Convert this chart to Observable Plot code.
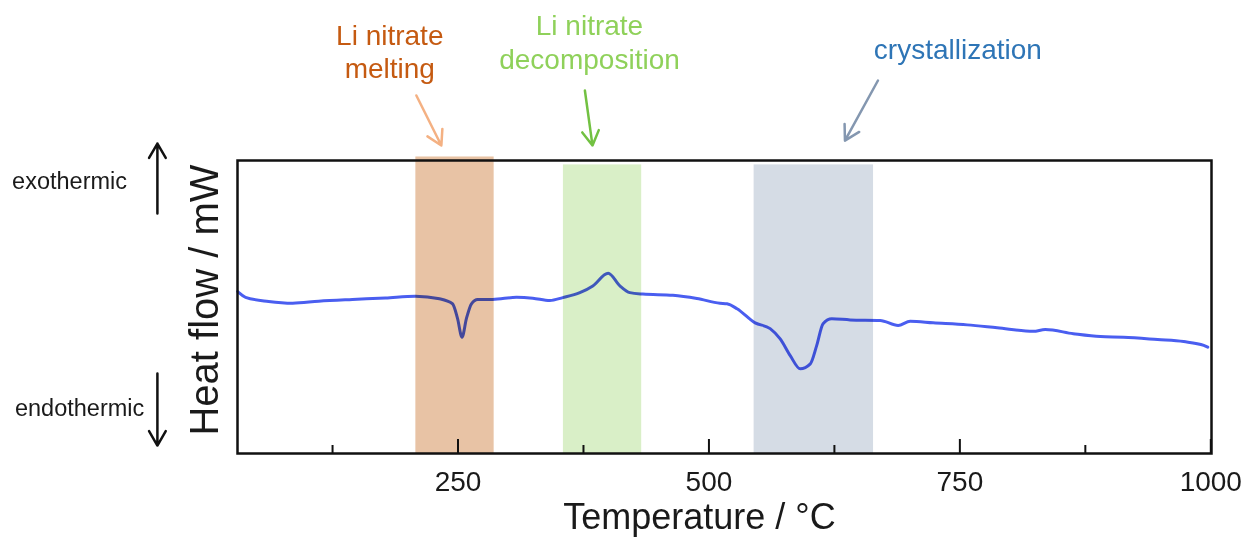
<!DOCTYPE html>
<html><head><meta charset="utf-8">
<script src="https://cdn.jsdelivr.net/npm/d3@7"></script>
<script src="https://cdn.jsdelivr.net/npm/@observablehq/plot@0.6"></script>
<style>body{margin:0;background:#fff} #chart svg{display:block}</style>
</head><body><div id="chart"></div>
<script>
// DSC trace (temperature in °C, heat flow in arbitrary mW units)
const temperature = [30.5, 32.3, 38.3, 61.3, 85.3, 111.2, 144.8, 177.7, 207.6, 231.5, 244.5, 249.5, 254, 258.4, 263.4, 269.6, 284.6, 308.2, 324.5, 341.5, 354.4, 371.4, 384.3, 399.6, 411.3, 421.2, 434.2, 464.1, 488, 511, 518, 528, 546, 561, 571, 581, 591, 601, 607.4, 613.7, 622.4, 640.7, 670.6, 688.5, 700.5, 723.4, 757.3, 787.2, 823.1, 835.1, 863, 890, 913, 947, 973, 993, 997];
const heatFlow = [5.53, 5.47, 5.33, 5.19, 5.13, 5.20, 5.26, 5.31, 5.37, 5.28, 5.11, 4.61, 3.97, 4.61, 5.11, 5.26, 5.26, 5.33, 5.30, 5.22, 5.32, 5.49, 5.72, 6.15, 5.72, 5.49, 5.44, 5.40, 5.29, 5.13, 5.11, 4.94, 4.46, 4.26, 3.91, 3.34, 2.89, 3.06, 3.69, 4.43, 4.60, 4.56, 4.54, 4.37, 4.51, 4.46, 4.39, 4.29, 4.17, 4.23, 4.09, 3.99, 3.97, 3.89, 3.82, 3.69, 3.63];

// highlighted regions
const regionNames = ["Li nitrate\nmelting", "Li nitrate\ndecomposition", "crystallization"];
const regionStart = [208, 355, 545];
const regionEnd = [286, 433, 664];
const regionTop = [10.12, 9.85, 9.85];
const regionFill = ["#e8c3a5", "#d9efc7", "#d5dce5"];
const regionTextColor = ["#c55a11", "#8fd15a", "#2e75b6"];
const regionArrowColor = ["#f4b183", "#72c142", "#8497b0"];

// annotation anchors (data units)
const labelX = [182, 381, 748];
const labelY = [13.75, 14.08, 13.82];
const arrowFromX = [208.5, 376.4, 668.4];
const arrowFromY = [12.22, 12.39, 12.73];
const arrowToX = [233.4, 384.0, 635.5];
const arrowToY = [10.51, 10.51, 10.68];

// axis ticks
const majorTicks = [250, 500, 750, 1000];
const minorTicks = [125, 375, 625, 875];

// direction hints
const hintLabels = ["exothermic", "endothermic"];
const hintX = [-137, -127];
const hintY = [9.28, 1.54];
const hintArrowX = -49.5;
const hintArrowFrom = [8.19, 2.73];
const hintArrowTo = [10.58, 0.27];

const trace = temperature.map((t, i) => ({t, h: heatFlow[i]}));
const regions = regionNames.map((name, i) => ({
  name, x1: regionStart[i], x2: regionEnd[i], top: regionTop[i],
  fill: regionFill[i], color: regionTextColor[i], arrow: regionArrowColor[i],
  lx: labelX[i], ly: labelY[i], ax1: arrowFromX[i], ay1: arrowFromY[i], ax2: arrowToX[i], ay2: arrowToY[i]
}));
const hints = hintLabels.map((label, i) => ({label, x: hintX[i], y: hintY[i], y1: hintArrowFrom[i], y2: hintArrowTo[i]}));

const chart = Plot.plot({
  width: 1247,
  height: 547,
  marginLeft: 237,
  marginRight: 36,
  marginTop: 160,
  marginBottom: 94,
  style: {fontFamily: "'Liberation Sans', Arial, sans-serif", color: "#1a1a1a", background: "#fff"},
  x: {domain: [30.3, 1000.7]},
  y: {domain: [0, 10], axis: null},
  marks: [
    Plot.line(trace, {x: "t", y: "h", stroke: "#4a5ef0", strokeWidth: 3, curve: "monotone-x"}),
    Plot.rect(regions, {x1: "x1", x2: "x2", y1: 0, y2: "top", fill: d => d.fill, mixBlendMode: "multiply", clip: false}),
    Plot.frame({stroke: "#111", strokeWidth: 2.5}),
    Plot.axisX({ticks: majorTicks, tickSize: -14, strokeWidth: 2, stroke: "#111", tickFormat: () => "", label: null}),
    Plot.axisX({ticks: minorTicks, tickSize: -8, strokeWidth: 2, stroke: "#111", tickFormat: () => "", label: null}),
    Plot.axisX({ticks: majorTicks, tickSize: 0, tickPadding: 18, fontSize: 28, fill: "#1a1a1a", tickFormat: d3.format("d"), label: null}),
    Plot.text(["Temperature / °C"], {frameAnchor: "bottom", dx: -25, dy: 75, fontSize: 36, fill: "#1a1a1a"}),
    Plot.text(["Heat flow / mW"], {frameAnchor: "left", textAnchor: "middle", rotate: -90, dx: -32, dy: -7, fontSize: 40, fill: "#1a1a1a"}),
    Plot.text(regions, {x: "lx", y: "ly", text: "name", fill: d => d.color, fontSize: 28, lineHeight: 1.2, clip: false}),
    Plot.arrow(regions, {x1: "ax1", y1: "ay1", x2: "ax2", y2: "ay2", stroke: d => d.arrow, strokeWidth: 2.5, headLength: 10, clip: false}),
    Plot.text(hints, {x: "x", y: "y", text: "label", fontSize: 23.5, fill: "#1a1a1a", clip: false}),
    Plot.arrow(hints, {x1: hintArrowX, x2: hintArrowX, y1: "y1", y2: "y2", stroke: "#111", strokeWidth: 2.5, headLength: 10, clip: false})
  ]
});
document.getElementById("chart").appendChild(chart);
</script>
</body></html>
